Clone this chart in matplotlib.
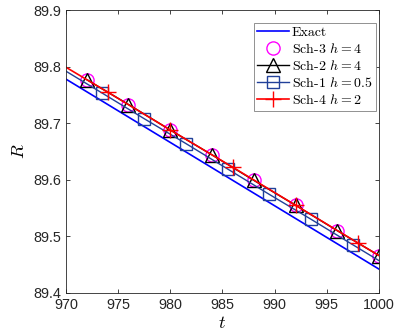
import matplotlib
matplotlib.use("Agg")
import matplotlib.pyplot as plt

# values
t_exact = [970, 975, 980, 985, 990, 995, 1000]
r_exact = [89.778, 89.722, 89.666, 89.610, 89.554, 89.498, 89.442]

t_h4 = [972, 976, 980, 984, 988, 992, 996, 1000]
r_sch3 = [89.777, 89.733, 89.688, 89.644, 89.599, 89.555, 89.510, 89.466]
r_sch2 = [89.777, 89.733, 89.688, 89.644, 89.599, 89.555, 89.510, 89.466]

t_sch1 = [970, 973.5, 977.5, 981.5, 985.5, 989.5, 993.5, 997.5, 1000]
r_sch1 = [89.792, 89.753, 89.708, 89.664, 89.619, 89.574, 89.530, 89.485, 89.457]

t_sch4 = [970, 974, 980, 986, 992, 998, 1000]
r_sch4 = [89.799, 89.755, 89.688, 89.622, 89.555, 89.488, 89.466]

x_ticks = [970, 975, 980, 985, 990, 995, 1000]
y_ticks = [89.4, 89.5, 89.6, 89.7, 89.8, 89.9]

plt.rcParams["font.family"] = ["Liberation Sans", "DejaVu Sans"]
plt.rcParams["mathtext.fontset"] = "cm"

fig = plt.figure(figsize=(3.99, 3.34), dpi=100)
ax = fig.add_axes([0.165, 0.123, 0.785, 0.847])

sch1_color = (0.13, 0.25, 0.6)

ax.plot(t_exact, r_exact, color="blue", lw=1.2, label="Exact")
ax.plot(t_h4, r_sch3, ls="none", marker="o", ms=9.5, mfc="none", mec="magenta",
        mew=1.0, label=r"Sch-3 $h=4$")
ax.plot(t_h4, r_sch2, color="black", lw=1.0, marker="^", ms=10, mfc="none",
        mec="black", mew=1.0, label=r"Sch-2 $h=4$")
ax.plot(t_sch1, r_sch1, color=sch1_color, lw=1.0, marker="s", ms=8.5, mfc="none",
        mec=sch1_color, mew=1.0, markevery=list(range(1, 8)), label=r"Sch-1 $h=0.5$")
ax.plot(t_sch4, r_sch4, color="red", lw=1.2, marker="+", ms=12, mew=1.0,
        markevery=list(range(1, 6)), label=r"Sch-4 $h=2$")

ax.set_xlim(970, 1000)
ax.set_ylim(89.4, 89.9)
ax.set_xticks(x_ticks)
ax.set_yticks(y_ticks)
ax.set_yticklabels([f"{v:.1f}" for v in y_ticks])
ax.tick_params(direction="in", top=True, right=True, labelsize=10.4,
               colors="#262626", length=3, width=0.6)
ax.tick_params(axis="x", pad=4)
for sp in ax.spines.values():
    sp.set_color("#262626")
    sp.set_linewidth(0.6)

ax.set_xlabel(r"$t$", fontsize=13, labelpad=2)
ax.set_ylabel(r"$R$", fontsize=13, labelpad=4)

leg = ax.legend(loc="upper right", bbox_to_anchor=(0.99, 0.955),
                prop={"family": "cmr10", "size": 10},
                fancybox=False, framealpha=1, edgecolor="#808080",
                handlelength=2.3, handletextpad=0.2, borderpad=0.25,
                labelspacing=0.22, borderaxespad=0)
leg.get_frame().set_linewidth(0.6)

fig.savefig("out.png", dpi=100)
